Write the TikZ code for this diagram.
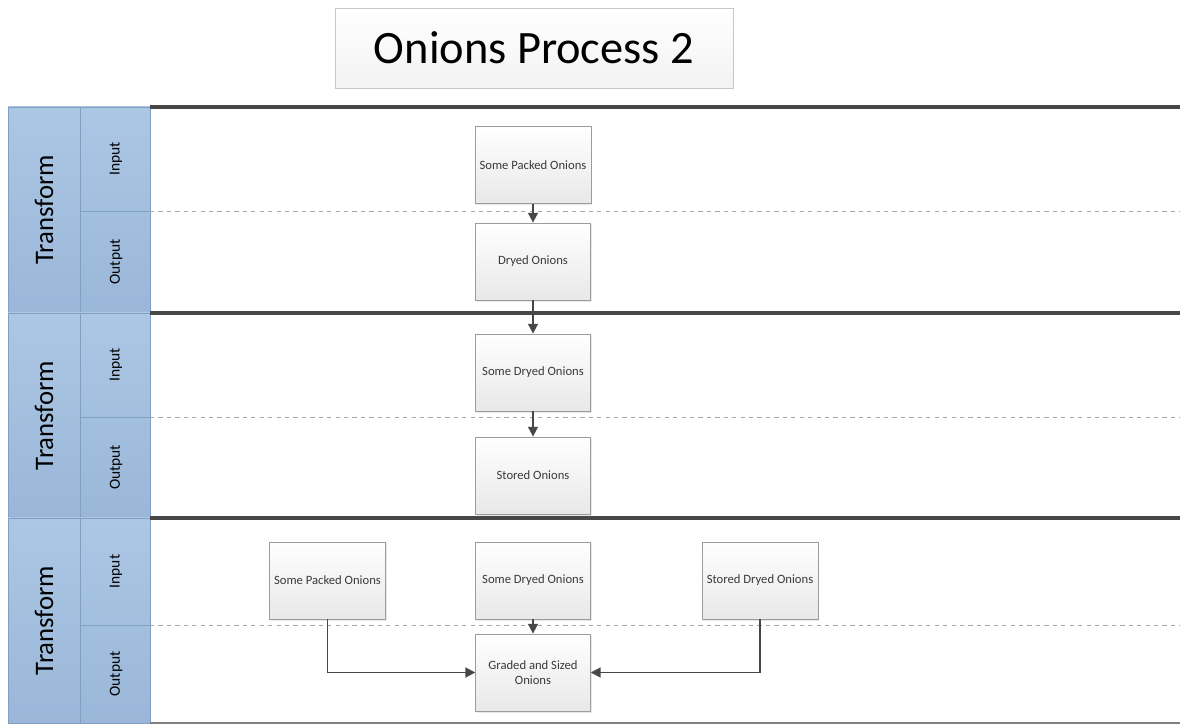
\documentclass[tikz,border=0pt]{standalone}
\usepackage{fontspec}
\setmainfont{Carlito}
\usetikzlibrary{arrows.meta,shadows}

\definecolor{lanetop}{HTML}{ACC7E4}
\definecolor{lanebot}{HTML}{9AB7D9}
\definecolor{laneedge}{HTML}{819FC2}
\definecolor{boxedge}{HTML}{9C9C9C}
\definecolor{boxtext}{HTML}{3A3A3A}

\tikzset{
  procbox/.style={draw=boxedge, top color=white, bottom color=black!9,
     minimum width=2.87cm, minimum height=1.93cm, align=center,
     font=\fontsize{9}{10.5}\selectfont, text=boxtext,
     drop shadow={opacity=0.18, shadow xshift=1pt, shadow yshift=-1pt}},
  flow/.style={-{Triangle[length=7pt,width=7pt]}, line width=1.3pt, black!72},
  lanecell/.style={top color=lanetop, bottom color=lanebot},
}

\begin{document}
\begin{tikzpicture}[x=0.025cm, y=-0.025cm]

   \useasboundingbox (0,0) rectangle (1180,728);

	%title
    \node[draw=black!22, top color=white, bottom color=black!5, minimum width=9.95cm, minimum height=2cm,
          font=\fontsize{33}{36}\selectfont, drop shadow={opacity=0.15, shadow xshift=1pt, shadow yshift=-1pt}]
          (title) at (534,48) {Onions Process 2};

	%lanes
    \foreach \top/\mid/\bot/\n in {107/211/313/1, 313/417/518/2, 518/625/723/3}{
         \shade[lanecell] (8,\top) rectangle (80,\bot);
         \shade[lanecell] (80,\top) rectangle (150,\bot);
         \draw[laneedge] (8,\top) rectangle (150,\bot);
         \draw[laneedge] (80,\top) -- (80,\bot);
         \draw[laneedge] (80,\mid) -- (150,\mid);
         \node[rotate=90, font=\fontsize{19}{22}\selectfont] (lane\n) at (44,{(\top+\bot)/2}) {Transform};
         \node[rotate=90, font=\fontsize{11}{13}\selectfont] (in\n) at (116,{(\top+\mid)/2}) {Input};
         \node[rotate=90, font=\fontsize{11}{13}\selectfont] (out\n) at (116,{(\mid+\bot)/2}) {Output};
         \draw[dashed, black!35] (150,\mid) -- (1180,\mid);
         \draw[line width=2.2pt, black!72] (150,\top) -- (1180,\top);
    }
    \draw[line width=1.6pt, black!50] (150,723) -- (1180,723);

	%boxes
    \node[procbox] (packA) at (533,165) {Some Packed Onions};
    \node[procbox] (dryA) at (533,261.5) {Dryed Onions};

    \node[procbox] (dryB) at (533,372.5) {Some Dryed Onions};
    \node[procbox] (stored) at (533,475.5) {Stored Onions};

    \node[procbox] (packC) at (327.5,580.5) {Some Packed Onions};
    \node[procbox] (dryC) at (533,580.5) {Some Dryed Onions};
    \node[procbox] (storedC) at (760,580.5) {Stored Dryed Onions};
    \node[procbox] (graded) at (533,672.5) {Graded and Sized\\Onions};

	%flows
    \draw[flow] (packA) -- (dryA);
    \draw[flow] (dryA) -- (dryB);
    \draw[flow] (dryB) -- (stored);
    \draw[flow] (dryC) -- (graded);
    \draw[flow] (packC.south) |- (graded.west);
    \draw[flow] (storedC.south) |- (graded.east);

\end{tikzpicture}
\end{document}
